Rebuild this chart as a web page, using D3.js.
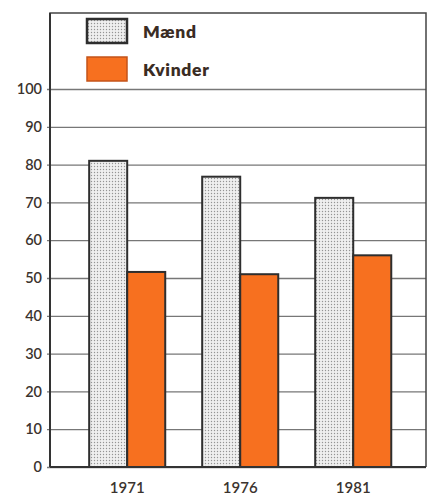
<!DOCTYPE html>
<html><head><meta charset="utf-8">
<script src="https://cdn.jsdelivr.net/npm/d3@7"></script>
<style>html,body{margin:0;padding:0;background:#fff;}svg{display:block;}</style>
</head><body>
<svg id="c" width="427" height="496"></svg>
<script>
const years = ["1971", "1976", "1981"];
const maend = [81, 76.8, 71.2];
const kvinder = [51.6, 51, 56];
const yTicks = [0, 10, 20, 30, 40, 50, 60, 70, 80, 90, 100];
const seriesNames = ["Mænd", "Kvinder"];

const W = 427, H = 496;
const m = {left: 50, right: 1, top: 13, bottom: 29};
const svg = d3.select("#c");
const defs = svg.append("defs");
const pat = defs.append("pattern").attr("id", "dots").attr("patternUnits", "userSpaceOnUse")
  .attr("width", 3).attr("height", 3);
pat.append("rect").attr("width", 3).attr("height", 3).attr("fill", "#efefef");
pat.append("circle").attr("cx", 1.5).attr("cy", 1.5).attr("r", 0.7).attr("fill", "#949494");

const orange = "#f7701f";
const dark = "#2e2e2e";
const textCol = "#3b332e";
const font = "Lato, 'Open Sans', sans-serif";

const y = d3.scaleLinear().domain([0, 100]).range([H - m.bottom, 89]);
const x = d3.scaleBand().domain(years).range([m.left, W - m.right]).paddingInner(0.327).paddingOuter(0.327).align(0.53);
const xs = d3.scaleBand().domain(seriesNames).range([0, x.bandwidth()]);

// grid lines
const grid = svg.append("g").attr("transform", `translate(${m.left},0)`)
  .call(d3.axisLeft(y).tickValues(yTicks).tickSize(-(W - m.right - m.left)).tickPadding(8).tickFormat(d3.format("d")));
grid.select(".domain").remove();
grid.selectAll(".tick line").attr("stroke", "#777").attr("stroke-width", 1.3).attr("x1", -3);
grid.selectAll(".tick text").attr("fill", textCol).attr("font-family", font)
  .attr("font-size", 14.5).attr("font-weight", 600).attr("x", -8);

// frame
svg.append("path").attr("d", `M${m.left},${H - m.bottom}V${m.top}H${W - m.right}V${H - m.bottom}`)
  .attr("fill", "none").attr("stroke", "#444").attr("stroke-width", 1.5);

// bars
const g = svg.append("g");
years.forEach((yr, i) => {
  const data = [{s: "Mænd", v: maend[i]}, {s: "Kvinder", v: kvinder[i]}];
  g.selectAll(null).data(data).enter().append("rect")
    .attr("x", d => x(yr) + xs(d.s))
    .attr("y", d => y(d.v))
    .attr("width", xs.bandwidth())
    .attr("height", d => y(0) - y(d.v))
    .attr("fill", d => d.s === "Mænd" ? "url(#dots)" : orange)
    .attr("stroke", dark).attr("stroke-width", 2);
});

// axis lines
svg.append("line").attr("x1", m.left).attr("x2", W - m.right).attr("y1", y(0)).attr("y2", y(0))
  .attr("stroke", "#333").attr("stroke-width", 2);
svg.append("line").attr("x1", m.left).attr("x2", m.left).attr("y1", m.top).attr("y2", y(0))
  .attr("stroke", "#333").attr("stroke-width", 2);

// x labels
const xa = svg.append("g").attr("transform", `translate(0,${y(0)})`)
  .call(d3.axisBottom(x).tickSize(0).tickPadding(15));
xa.select(".domain").remove();
xa.selectAll("text").attr("fill", textCol).attr("font-family", font)
  .attr("font-size", 15).attr("font-weight", 600);

// legend
const leg = svg.append("g").attr("transform", "translate(87,19)");
seriesNames.forEach((s, i) => {
  const row = leg.append("g").attr("transform", `translate(0,${i * 38})`);
  row.append("rect").attr("width", 40).attr("height", 24)
    .attr("fill", s === "Mænd" ? "url(#dots)" : orange)
    .attr("stroke", s === "Mænd" ? dark : "#c4531a").attr("stroke-width", s === "Mænd" ? 2.5 : 1.5);
  row.append("text").attr("x", 56).attr("y", 19).text(s)
    .attr("fill", "#3a2c24").attr("font-family", font)
    .attr("font-size", 17.5).attr("font-weight", 800).attr("letter-spacing", 0.7);
});
</script>
</body></html>
